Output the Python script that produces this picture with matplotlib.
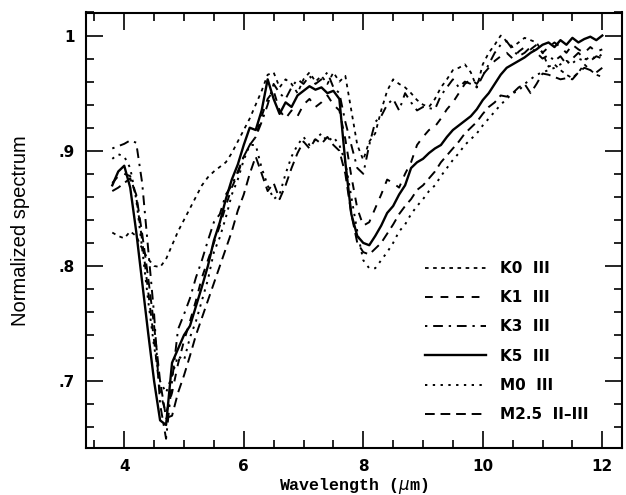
import matplotlib
matplotlib.use("Agg")
import matplotlib.pyplot as plt
from matplotlib.ticker import MultipleLocator

# wavelength grid (micron)
wl = [3.8, 3.9, 4.0, 4.1, 4.2, 4.3, 4.4, 4.5, 4.6, 4.7,
      4.8, 4.9, 5.0, 5.1, 5.2, 5.3, 5.4, 5.5, 5.6, 5.7,
      5.8, 5.9, 6.0, 6.1, 6.2, 6.3, 6.4, 6.5, 6.6, 6.7,
      6.8, 6.9, 7.0, 7.1, 7.2, 7.3, 7.4, 7.5, 7.6, 7.7,
      7.8, 7.9, 8.0, 8.1, 8.2, 8.3, 8.4, 8.5, 8.6, 8.7,
      8.8, 8.9, 9.0, 9.1, 9.2, 9.3, 9.4, 9.5, 9.6, 9.7,
      9.8, 9.9, 10.0, 10.1, 10.2, 10.3, 10.4, 10.5, 10.6, 10.7,
      10.8, 10.9, 11.0, 11.1, 11.2, 11.3, 11.4, 11.5, 11.6, 11.7,
      11.8, 11.9, 12.0]

k0 = [0.829, 0.826, 0.824, 0.830, 0.826, 0.815, 0.806, 0.800, 0.799, 0.806,
      0.818, 0.830, 0.840, 0.850, 0.860, 0.870, 0.877, 0.882, 0.886, 0.890,
      0.898, 0.908, 0.918, 0.928, 0.940, 0.952, 0.966, 0.968, 0.955, 0.962,
      0.958, 0.950, 0.962, 0.968, 0.960, 0.965, 0.958, 0.968, 0.960, 0.965,
      0.935, 0.905, 0.892, 0.908, 0.915, 0.935, 0.952, 0.962, 0.958, 0.955,
      0.950, 0.944, 0.940, 0.938, 0.945, 0.955, 0.962, 0.970, 0.972, 0.975,
      0.968, 0.955, 0.975, 0.985, 0.992, 1.000, 0.995, 0.990, 0.994, 0.998,
      0.996, 0.994, 0.985, 0.973, 0.975, 0.970, 0.966, 0.963, 0.968, 0.975,
      0.970, 0.966, 0.964]

k1 = [0.872, 0.878, 0.880, 0.878, 0.860, 0.822, 0.778, 0.735, 0.690, 0.672,
      0.690, 0.715, 0.735, 0.752, 0.770, 0.790, 0.805, 0.820, 0.835, 0.852,
      0.868, 0.880, 0.895, 0.905, 0.912, 0.930, 0.945, 0.952, 0.935, 0.928,
      0.935, 0.930, 0.940, 0.945, 0.938, 0.942, 0.948, 0.940, 0.935, 0.910,
      0.878, 0.850, 0.835, 0.838, 0.850, 0.862, 0.875, 0.872, 0.868, 0.880,
      0.890, 0.905, 0.912, 0.918, 0.921, 0.928, 0.936, 0.942, 0.950, 0.958,
      0.962, 0.958, 0.966, 0.972, 0.978, 0.982, 0.985, 0.980, 0.986, 0.990,
      0.988, 0.992, 0.985, 0.990, 0.994, 0.990, 0.985, 0.992, 0.988, 0.985,
      0.990, 0.986, 0.988]

k3 = [0.902, 0.904, 0.906, 0.909, 0.907, 0.872, 0.815, 0.758, 0.680, 0.650,
      0.700, 0.745, 0.758, 0.772, 0.790, 0.805, 0.822, 0.838, 0.845, 0.862,
      0.870, 0.882, 0.895, 0.905, 0.912, 0.925, 0.940, 0.958, 0.950, 0.945,
      0.955, 0.962, 0.958, 0.965, 0.958, 0.962, 0.968, 0.955, 0.950, 0.925,
      0.905, 0.885, 0.880, 0.905, 0.925, 0.930, 0.940, 0.945, 0.935, 0.950,
      0.942, 0.935, 0.938, 0.937, 0.936, 0.948, 0.955, 0.962, 0.955, 0.960,
      0.958, 0.955, 0.965, 0.975, 0.985, 0.992, 0.995, 0.988, 0.982, 0.985,
      0.990, 0.985, 0.980, 0.983, 0.978, 0.982, 0.975, 0.980, 0.985, 0.980,
      0.978, 0.982, 0.980]

k5 = [0.870, 0.882, 0.887, 0.868, 0.830, 0.786, 0.742, 0.700, 0.666, 0.662,
      0.716, 0.728, 0.740, 0.748, 0.765, 0.782, 0.800, 0.822, 0.838, 0.858,
      0.875, 0.888, 0.905, 0.920, 0.918, 0.935, 0.962, 0.945, 0.932, 0.942,
      0.938, 0.948, 0.952, 0.956, 0.953, 0.955, 0.950, 0.952, 0.945, 0.890,
      0.845, 0.826, 0.820, 0.818, 0.826, 0.835, 0.846, 0.852, 0.862, 0.870,
      0.885, 0.890, 0.893, 0.898, 0.902, 0.905, 0.912, 0.918, 0.922, 0.926,
      0.930, 0.936, 0.944, 0.950, 0.958, 0.966, 0.972, 0.975, 0.978, 0.981,
      0.985, 0.988, 0.992, 0.994, 0.990, 0.996, 0.992, 0.998, 0.994, 0.997,
      0.999, 0.996, 1.000]

m0 = [0.893, 0.897, 0.895, 0.885, 0.858, 0.815, 0.770, 0.730, 0.700, 0.690,
      0.705, 0.722, 0.718, 0.738, 0.752, 0.770, 0.788, 0.812, 0.825, 0.842,
      0.862, 0.875, 0.892, 0.905, 0.905, 0.885, 0.870, 0.858, 0.862, 0.880,
      0.895, 0.905, 0.912, 0.905, 0.910, 0.915, 0.908, 0.912, 0.905, 0.890,
      0.860, 0.830, 0.805, 0.798, 0.798, 0.805, 0.812, 0.820, 0.830, 0.836,
      0.845, 0.852, 0.858, 0.865, 0.870, 0.878, 0.885, 0.892, 0.898, 0.905,
      0.910, 0.915, 0.922, 0.928, 0.934, 0.940, 0.945, 0.950, 0.952, 0.958,
      0.962, 0.966, 0.968, 0.970, 0.972, 0.975, 0.978, 0.976, 0.980, 0.978,
      0.982, 0.980, 0.984]

m25 = [0.865, 0.868, 0.872, 0.876, 0.862, 0.828, 0.790, 0.748, 0.700, 0.668,
       0.670, 0.690, 0.705, 0.722, 0.740, 0.755, 0.770, 0.785, 0.800, 0.815,
       0.830, 0.848, 0.862, 0.880, 0.895, 0.880, 0.865, 0.872, 0.858, 0.870,
       0.885, 0.898, 0.908, 0.902, 0.910, 0.906, 0.912, 0.905, 0.900, 0.880,
       0.845, 0.820, 0.812, 0.810, 0.815, 0.820, 0.828, 0.836, 0.845, 0.852,
       0.858, 0.866, 0.870, 0.876, 0.882, 0.890, 0.896, 0.902, 0.908, 0.915,
       0.920, 0.925, 0.932, 0.938, 0.942, 0.948, 0.947, 0.950, 0.955, 0.958,
       0.950, 0.958, 0.967, 0.966, 0.964, 0.962, 0.963, 0.962, 0.968, 0.972,
       0.970, 0.968, 0.972]

labels = ["K0  III", "K1  III", "K3  III", "K5  III", "M0  III", "M2.5  II\u2013III"]
series = [k0, k1, k3, k5, m0, m25]
styles = [(0, (2, 2.5)), (0, (4, 4)), (0, (1.2, 3, 5, 3)), "-", (0, (1.2, 2.8)), (0, (5, 3))]
widths = [1.3, 1.4, 1.4, 1.7, 1.4, 1.4]

fig = plt.figure(figsize=(6.26, 4.95), dpi=100)
ax = fig.add_axes([86 / 626, 47 / 495, 536 / 626, 435.5 / 495])

for y, lab, ls, lw in zip(series, labels, styles, widths):
    ax.plot(wl, y, color="black", linestyle=ls, linewidth=lw, label=lab)

ax.set_xlim(3.36, 12.33)
ax.set_ylim(0.642, 1.020)
ax.set_xticks([4, 6, 8, 10, 12])
ax.set_xticklabels(["4", "6", "8", "10", "12"])
ax.set_yticks([0.7, 0.8, 0.9, 1.0])
ax.set_yticklabels([".7", ".8", ".9", "1"])
ax.xaxis.set_minor_locator(MultipleLocator(0.5))
ax.yaxis.set_minor_locator(MultipleLocator(0.02))
ax.tick_params(which="both", direction="in", top=True, right=True, width=1.2, color="black")
ax.tick_params(which="major", length=12, pad=8, labelsize=11)
ax.tick_params(which="minor", length=6)
for lab in ax.get_xticklabels() + ax.get_yticklabels():
    lab.set_fontweight("bold")
for sp in ax.spines.values():
    sp.set_linewidth(1.5)

ax.set_xlabel(r"Wavelength ($\mu$m)", fontsize=12, fontweight="bold",
              family="Liberation Mono", labelpad=1)
ax.set_ylabel("Normalized spectrum", fontsize=14.5, family="Liberation Sans")
ax.yaxis.set_label_coords(-0.105, 0.5)

ax.legend(loc="lower right", bbox_to_anchor=(0.963, 0.028), frameon=False,
          handlelength=4.0, labelspacing=0.93, handletextpad=0.9,
          prop={"weight": "bold", "size": 11})

fig.savefig("out.png", dpi=100)
